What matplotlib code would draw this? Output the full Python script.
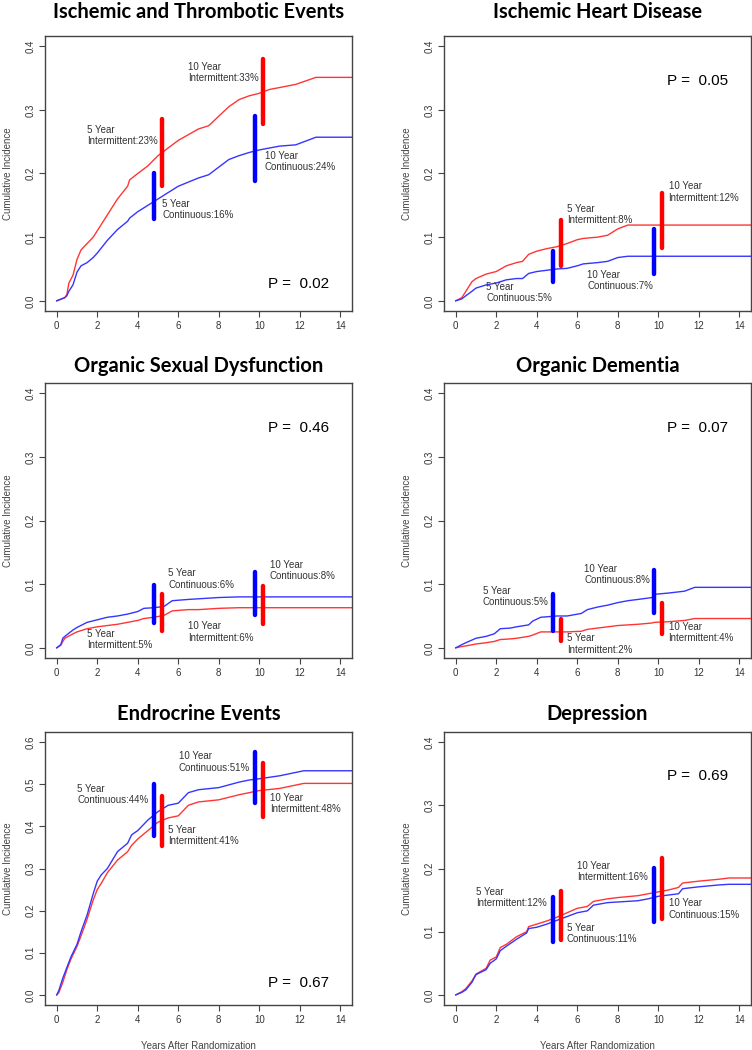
"""
Cumulative incidence curves, continuous vs intermittent therapy (six panels).
"""

import matplotlib
matplotlib.use("Agg")
import matplotlib.pyplot as plt

# ---------------- data ----------------

titles = ["Ischemic and Thrombotic Events", "Ischemic Heart Disease",
          "Organic Sexual Dysfunction", "Organic Dementia",
          "Endrocrine Events", "Depression"]
p_values = ["0.02", "0.05", "0.46", "0.07", "0.67", "0.69"]

# panel 1
t1 = [0, 0.4, 0.5, 0.6, 0.8, 1.0, 1.2, 1.5, 1.8, 2.0, 2.5, 3.0, 3.5, 3.6, 3.8, 4.0,
      4.5, 5.0, 5.5, 6.0, 7.0, 7.5, 8.0, 8.5, 9.0, 9.5, 10.0, 10.5, 11.0, 11.8, 12.8, 15]
int1 = [0, .005, .01, .028, .04, .065, .08, .09, .10, .11, .135, .16, .18, .19, .195, .20,
        .212, .228, .24, .252, .27, .275, .29, .305, .316, .322, .326, .332, .335, .34, .351, .351]
cont1 = [0, .005, .008, .015, .025, .045, .055, .06, .068, .075, .095, .112, .125, .13, .135, .14,
         .15, .16, .17, .18, .193, .198, .21, .222, .228, .233, .237, .24, .243, .245, .257, .257]

# panel 2
t2 = [0, 0.3, 0.5, 0.8, 1.0, 1.5, 2.0, 2.5, 3.0, 3.3, 3.6, 4.0, 4.5, 5.0, 5.5,
      6.0, 6.3, 7.0, 7.5, 8.0, 8.5, 15]
int2 = [0, .005, .015, .03, .035, .042, .046, .055, .06, .062, .073, .078, .082, .085, .09,
        .096, .098, .1, .103, .113, .119, .119]
cont2 = [0, .003, .008, .015, .02, .025, .028, .033, .035, .035, .043, .046, .048, .05, .051,
         .055, .058, .06, .062, .068, .07, .07]

# panel 3
t3 = [0, 0.2, 0.3, 0.4, 0.8, 1.0, 1.5, 2.0, 2.5, 3.0, 3.5, 4.0, 4.3, 4.8, 5.3,
      5.7, 6.5, 7.0, 8.0, 9.0, 15]
int3 = [0, .004, .01, .015, .022, .025, .03, .033, .035, .037, .04, .043, .046, .048, .051,
        .058, .06, .06, .062, .063, .063]
cont3 = [0, .005, .015, .018, .028, .032, .04, .044, .048, .05, .053, .057, .062, .063, .065,
         .074, .076, .077, .079, .08, .08]

# panel 4
t4 = [0, 0.3, 0.5, 1.0, 1.5, 1.9, 2.2, 2.7, 3.0, 3.6, 3.8, 4.2, 5.0, 5.5, 6.2, 6.5,
      7.0, 7.5, 8.0, 8.5, 9.0, 9.7, 9.8, 10.5, 11.3, 11.8, 15]
int4 = [0, .002, .003, .006, .008, .01, .013, .014, .015, .018, .02, .025, .025, .025, .026, .029,
        .031, .033, .035, .036, .037, .039, .04, .041, .043, .046, .046]
cont4 = [0, .005, .008, .015, .018, .022, .03, .031, .033, .036, .042, .048, .05, .05, .054, .06,
         .064, .067, .071, .074, .076, .079, .084, .086, .089, .095, .095]

# panel 5
t5 = [0, 0.1, 0.3, 0.5, 0.7, 1.0, 1.2, 1.5, 1.8, 2.0, 2.2, 2.5, 3.0, 3.5, 3.7,
      4.0, 4.5, 5.0, 5.5, 6.0, 6.5, 7.0, 8.0, 9.0, 9.5, 10.0, 11.0, 12.2, 15]
int5 = [0, .005, .03, .06, .085, .115, .14, .18, .225, .25, .265, .29, .32, .34, .355,
        .37, .39, .41, .42, .425, .45, .458, .463, .475, .48, .485, .49, .502, .502]
cont5 = [0, .01, .04, .065, .09, .12, .15, .19, .24, .27, .285, .30, .34, .36, .38,
         .39, .415, .435, .45, .455, .48, .487, .492, .505, .51, .513, .52, .532, .532]

# panel 6
t6 = [0, 0.3, 0.5, 0.8, 1.0, 1.5, 1.7, 2.0, 2.2, 2.5, 3.0, 3.5, 3.6, 4.0, 4.5, 5.0,
      5.5, 6.0, 6.5, 6.8, 7.5, 8.0, 9.0, 9.5, 10.0, 10.5, 11.0, 11.2, 12.0, 13.0, 13.5, 15]
int6 = [0, .005, .01, .022, .033, .042, .055, .06, .075, .08, .092, .1, .108, .112, .117, .123,
        .13, .137, .14, .148, .152, .154, .157, .16, .163, .166, .17, .177, .18, .183, .185, .185]
cont6 = [0, .004, .008, .02, .032, .04, .05, .057, .07, .077, .088, .098, .105, .107, .112, .118,
         .124, .13, .133, .142, .146, .147, .149, .152, .156, .158, .16, .168, .171, .174, .175, .175]

# confidence bars at 5 and 10 years: (blue 5y, red 5y, blue 10y, red 10y)
bar_x = [4.8, 5.2, 9.8, 10.2]
bar_lo = [[.128, .180, .189, .277], [.030, .054, .042, .083], [.039, .027, .051, .038],
          [.026, .011, .055, .022], [.376, .353, .455, .423], [.083, .087, .115, .120]]
bar_hi = [[.200, .285, .291, .380], [.079, .127, .113, .169], [.099, .085, .119, .097],
          [.085, .046, .122, .071], [.500, .471, .576, .550], [.155, .164, .201, .216]]

# text labels next to the bars: (x, y, label)
notes = [
    [(1.5, .26, "5 Year\nIntermittent:23%"), (5.2, .144, "5 Year\nContinuous:16%"),
     (6.5, .359, "10 Year\nIntermittent:33%"), (10.27, .219, "10 Year\nContinuous:24%")],
    [(1.5, .013, "5 Year\nContinuous:5%"), (5.49, .136, "5 Year\nIntermittent:8%"),
     (6.5, .0325, "10 Year\nContinuous:7%"), (10.51, .171, "10 Year\nIntermittent:12%")],
    [(1.5, .013, "5 Year\nIntermittent:5%"), (5.5, .108, "5 Year\nContinuous:6%"),
     (6.5, .025, "10 Year\nIntermittent:6%"), (10.52, .122, "10 Year\nContinuous:8%")],
    [(1.34, .08, "5 Year\nContinuous:5%"), (5.49, .006, "5 Year\nIntermittent:2%"),
     (6.34, .115, "10 Year\nContinuous:8%"), (10.51, .024, "10 Year\nIntermittent:4%")],
    [(1.02, .476, "5 Year\nContinuous:44%"), (5.5, .378, "5 Year\nIntermittent:41%"),
     (6.03, .553, "10 Year\nContinuous:51%"), (10.52, .454, "10 Year\nIntermittent:48%")],
    [(1.02, .154, "5 Year\nIntermittent:12%"), (5.49, .097, "5 Year\nContinuous:11%"),
     (6.01, .195, "10 Year\nIntermittent:16%"), (10.51, .136, "10 Year\nContinuous:15%")],
]
p_y = [.027, .346, .346, .346, .0276, .346]
y_max = [0.4, 0.4, 0.4, 0.4, 0.6, 0.4]

times = [t1, t2, t3, t4, t5, t6]
intermittent = [int1, int2, int3, int4, int5, int6]
continuous = [cont1, cont2, cont3, cont4, cont5, cont6]

# ---------------- drawing ----------------

plt.rcParams["font.family"] = ["Liberation Sans", "DejaVu Sans"]
txt = "#333333"
bar_col = ["#0000ff", "#ff0000", "#0000ff", "#ff0000"]

fig = plt.figure(figsize=(7.52, 10.5), dpi=100)

# axes boxes in pixels: (left, top, right, bottom)
lefts = [45, 444]
rows = [(36, 311), (383, 658), (732, 1005)]
title_pad = [13, 8, 9]

for i in range(6):
    r, c = divmod(i, 2)
    top, bot = rows[r]
    left = lefts[c]
    ax = fig.add_axes([left / 752, 1 - bot / 1050, 307 / 752, (bot - top) / 1050])

    ax.plot(times[i], intermittent[i], color="#ff3535", lw=1.0)
    ax.plot(times[i], continuous[i], color="#3535ff", lw=1.0)

    for k in range(4):
        ax.plot([bar_x[k], bar_x[k]], [bar_lo[i][k], bar_hi[i][k]], color=bar_col[k],
                lw=3.2, solid_capstyle="round")

    for (x, y, s) in notes[i]:
        ax.text(x, y, s, fontsize=7, color=txt, ha="left", va="center", linespacing=1.15)

    ax.text(11.95, p_y[i], "P =  " + p_values[i], fontsize=11, color="black",
            ha="center", va="center")

    ym = y_max[i]
    ax.set_xlim(-0.58, 14.58)
    ax.set_ylim(-0.04 * ym, 1.04 * ym)
    ax.set_xticks(range(0, 15, 2))
    ax.set_yticks([k / 10 for k in range(int(round(ym * 10)) + 1)])
    ax.set_yticklabels(["%.1f" % (k / 10) for k in range(int(round(ym * 10)) + 1)])
    ax.tick_params(axis="both", labelsize=7, colors="#444444", labelcolor=txt,
                   length=4, width=0.8, pad=3)
    ax.tick_params(axis="y", labelrotation=90)
    for lab in ax.get_yticklabels():
        lab.set_va("center")
    for sp in ax.spines.values():
        sp.set_color("#444444")
        sp.set_linewidth(1.0)

    ax.set_ylabel("Cumulative Incidence", fontsize=7, color="#444444", labelpad=9)
    if r == 2:
        ax.set_xlabel("Years After Randomization", fontsize=7, color="#444444", labelpad=12)

    ax.set_title(titles[i], fontsize=14.5, fontweight="bold", family=["Lato", "DejaVu Sans"],
                 pad=title_pad[r])

fig.savefig("out.png", dpi=100)
